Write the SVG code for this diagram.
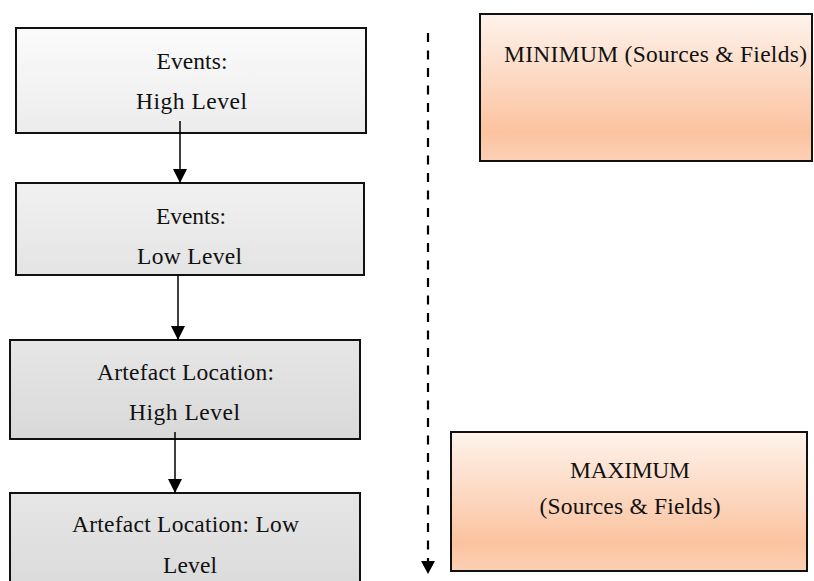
<svg xmlns="http://www.w3.org/2000/svg" width="814" height="581" viewBox="0 0 814 581">
<style>
.box{stroke:#111;stroke-width:2}
.t{font-family:"Liberation Serif","Times New Roman",serif;font-size:23.5px;fill:#111;text-anchor:middle}
.c{stroke:#000;stroke-width:1.5;fill:none}
.d{stroke:#000;stroke-width:2.2;fill:none;stroke-dasharray:9 8.5}
</style>
<defs>
<linearGradient id="g1" x1="0" y1="0" x2="0" y2="1"><stop offset="0" stop-color="#fbfbfb"/><stop offset="1" stop-color="#ececec"/></linearGradient>
<linearGradient id="g2" x1="0" y1="0" x2="0" y2="1"><stop offset="0" stop-color="#f1f1f1"/><stop offset="1" stop-color="#e4e4e4"/></linearGradient>
<linearGradient id="g3" x1="0" y1="0" x2="0" y2="1"><stop offset="0" stop-color="#e6e6e6"/><stop offset="1" stop-color="#d9d9d9"/></linearGradient>
<linearGradient id="go" x1="0" y1="0" x2="0" y2="1"><stop offset="0" stop-color="#fef3ec"/><stop offset="0.8" stop-color="#fbc3a0"/><stop offset="1" stop-color="#fcd0b5"/></linearGradient>
<marker id="ah" viewBox="0 0 14 16" refX="14" refY="7" markerWidth="14" markerHeight="16" markerUnits="userSpaceOnUse" orient="auto"><path d="M0,0 L14,7 L0,14 Z" fill="#000"/></marker>
</defs>
<g id="node-events-high">
<rect class="box" x="16" y="28" width="350" height="105" fill="url(#g1)"/>
<text class="t" x="192" y="69" textLength="71" lengthAdjust="spacing">Events:</text>
<text class="t" x="191.5" y="109" textLength="111" lengthAdjust="spacing">High Level</text>
</g>
<g id="node-events-low">
<rect class="box" x="16" y="183" width="348" height="92" fill="url(#g2)"/>
<text class="t" x="191" y="224" textLength="70" lengthAdjust="spacing">Events:</text>
<text class="t" x="189.5" y="264" textLength="105" lengthAdjust="spacing">Low Level</text>
</g>
<g id="node-artefact-high">
<rect class="box" x="10" y="340" width="350" height="99" fill="url(#g3)"/>
<text class="t" x="185.5" y="380" textLength="177" lengthAdjust="spacing">Artefact Location:</text>
<text class="t" x="184.5" y="420" textLength="111" lengthAdjust="spacing">High Level</text>
</g>
<g id="node-artefact-low">
<rect class="box" x="10" y="493" width="350" height="110" fill="url(#g3)"/>
<text class="t" x="185.5" y="532" textLength="227" lengthAdjust="spacing">Artefact Location: Low</text>
<text class="t" x="190" y="573" textLength="54" lengthAdjust="spacing">Level</text>
</g>
<g id="node-minimum">
<rect class="box" x="480" y="14" width="332" height="147" fill="url(#go)"/>
<text class="t" x="655.5" y="62" textLength="303" lengthAdjust="spacing">MINIMUM (Sources &amp; Fields)</text>
</g>
<g id="node-maximum">
<rect class="box" x="451" y="432" width="356" height="139" fill="url(#go)"/>
<text class="t" x="630" y="478" textLength="120" lengthAdjust="spacing">MAXIMUM</text>
<text class="t" x="630" y="514" textLength="181" lengthAdjust="spacing">(Sources &amp; Fields)</text>
</g>
<g id="connectors">
<line class="c" x1="180" y1="121" x2="180" y2="183" marker-end="url(#ah)"/>
<line class="c" x1="178" y1="275" x2="178" y2="340" marker-end="url(#ah)"/>
<line class="c" x1="175" y1="432" x2="175" y2="493" marker-end="url(#ah)"/>
<line class="d" x1="428" y1="33" x2="428" y2="562"/>
<path d="M421,561 L435,561 L428,574 Z" fill="#000"/>
</g>
</svg>
